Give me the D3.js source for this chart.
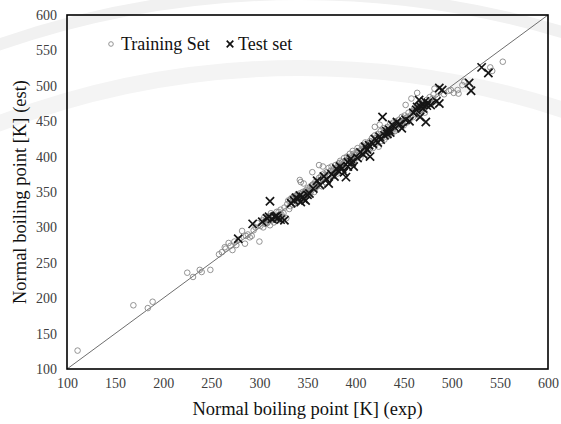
<!DOCTYPE html>
<html>

<head>
    <meta charset="UTF-8">
    <style>
        body {
            margin: 0;
            background-color: #fff;
        }

        .tick text {
            font-size: 14px;
            fill: #404040;
        }

        .axis-title {
            font-size: 18.5px;
            fill: #111;
        }

        .legend text {
            font-size: 18px;
            fill: #111;
        }
    </style>
    <title>Normal boiling point</title>
</head>

<body>
    <svg id="d3chart" width="561" height="424"></svg>

    <script src="https://d3js.org/d3.v7.min.js"></script>
    <script>
        // data: [exp, est]
        const trainingSet = [
            [111, 126], [169, 190], [184, 186], [189, 195], [225, 236], [231, 230], [238, 240], [240, 237], [249, 240],
            [258, 262], [261, 265], [264, 272], [265, 270], [268, 278], [270, 274], [272, 268], [274, 280], [276, 275],
            [279, 283], [282, 295], [285, 277], [286, 288], [288, 290], [290, 286], [292, 288], [294, 296], [296, 300],
            [298, 306], [300, 280],
            [301, 302], [303, 310], [304, 300], [306, 305], [307, 312], [309, 308], [310, 316], [311, 303], [313, 310],
            [314, 318], [315, 307], [317, 314], [318, 322], [319, 310], [321, 318], [322, 325], [324, 315], [325, 320],
            [326, 328], [328, 313], [329, 333], [305, 314], [308, 306], [312, 320], [316, 311], [320, 322], [323, 318],
            [330, 338], [331, 326], [332, 330], [333, 341], [334, 336], [335, 332], [336, 344], [337, 339], [338, 334],
            [339, 342], [340, 346], [341, 338], [342, 348], [343, 344], [344, 340], [345, 350], [346, 346], [347, 342],
            [348, 352], [349, 348], [350, 355], [351, 345], [352, 351], [353, 358], [354, 352], [355, 360], [356, 356],
            [357, 350], [358, 364], [359, 362], [360, 358], [343, 364], [346, 362], [342, 367], [362, 388], [366, 386],
            [355, 378], [332, 337], [335, 340], [338, 345], [340, 336], [342, 341], [344, 347], [347, 350], [349, 344],
            [351, 353], [353, 349], [356, 361], [358, 355],
            [361, 366], [362, 370], [363, 364], [364, 372], [365, 358], [366, 368], [367, 376], [368, 370], [369, 364],
            [370, 378], [371, 374], [372, 384], [373, 368], [374, 380], [375, 386], [376, 372], [377, 382], [378, 378],
            [379, 388], [380, 384], [381, 376], [382, 390], [383, 386], [384, 394], [385, 380], [386, 392], [387, 388],
            [388, 398], [389, 384], [390, 394], [391, 400], [392, 388], [393, 396], [394, 404], [395, 392], [396, 398],
            [397, 408], [398, 394], [399, 402], [400, 398], [364, 366], [368, 374], [372, 372], [376, 380], [380, 378],
            [383, 391], [386, 386], [389, 393], [392, 396], [395, 400], [398, 404],
            [401, 406], [402, 412], [403, 402], [404, 408], [405, 398], [406, 410], [407, 416], [408, 406], [409, 412],
            [410, 420], [411, 404], [412, 414], [413, 418], [414, 410], [415, 422], [416, 416], [417, 426], [418, 412],
            [419, 420], [420, 430], [421, 418], [422, 424], [423, 432], [424, 414], [425, 426], [426, 436], [427, 422],
            [428, 430], [429, 440], [430, 424], [431, 434], [432, 428], [433, 442], [434, 436], [435, 430], [436, 446],
            [437, 438], [438, 434], [439, 448], [440, 442], [420, 442], [425, 445], [404, 403], [408, 414], [413, 409],
            [417, 420], [421, 426], [426, 428], [430, 436], [434, 432], [438, 440],
            [441, 436], [442, 450], [443, 444], [444, 438], [445, 452], [446, 448], [447, 442], [448, 456], [449, 450],
            [450, 444], [451, 458], [452, 454], [453, 448], [455, 462], [456, 452], [457, 458], [459, 464], [460, 456],
            [461, 468], [462, 460], [464, 470], [465, 462], [466, 458], [467, 474], [468, 466], [470, 476], [471, 468],
            [472, 462], [474, 480], [475, 472], [477, 484], [478, 476], [480, 482], [481, 488], [482, 478], [452, 473],
            [464, 490], [458, 482], [444, 446], [448, 448], [454, 456], [462, 466], [466, 470], [470, 466],
            [485, 484], [482, 496], [492, 488], [497, 493], [499, 494], [502, 490], [506, 494], [507, 489], [511, 501],
            [513, 506], [540, 526], [542, 521], [553, 534]
        ];

        const testSet = [
            [278, 284], [293, 305], [303, 308], [308, 313], [311, 337], [313, 312], [316, 315], [319, 313], [322, 311],
            [326, 310], [333, 334], [336, 338], [340, 340], [343, 336], [345, 343], [348, 338], [352, 348], [356, 355],
            [360, 366], [363, 360], [367, 372], [370, 368], [372, 362], [375, 375], [378, 372], [382, 380], [386, 383],
            [388, 378], [390, 371], [392, 392], [395, 397], [398, 386], [402, 398], [405, 406], [408, 403], [412, 410],
            [415, 400], [418, 418], [420, 425], [423, 420], [425, 428], [428, 456], [430, 430], [433, 432], [435, 438],
            [438, 445], [440, 442], [443, 449], [446, 446], [448, 440], [452, 452], [456, 450], [460, 462], [463, 466],
            [466, 480], [467, 456], [468, 470], [470, 473], [472, 478], [473, 449], [475, 476], [478, 473], [484, 478],
            [487, 475], [487, 497], [490, 494], [518, 504], [520, 493], [531, 526], [538, 518],
            [310, 315], [318, 316], [338, 342], [342, 345], [346, 340], [350, 346], [380, 383], [384, 386], [392, 386],
            [396, 392], [410, 414], [414, 416], [426, 424], [432, 436], [436, 434], [464, 470], [470, 468], [474, 472]
        ];

        const axisTicks = [100, 150, 200, 250, 300, 350, 400, 450, 500, 550, 600];
        const seriesNames = ["Training Set", "Test set"];

        const serif = '"Liberation Serif", Tinos, "Times New Roman", "DejaVu Serif", serif';

        const svg = d3.select("#d3chart");
        const plotLeft = 67, plotTop = 15, plotRight = 548, plotBottom = 369;

        const x = d3.scaleLinear().domain([100, 600]).range([plotLeft, plotRight]);
        const y = d3.scaleLinear().domain([100, 600]).range([plotBottom, plotTop]);

        // faint watermark rings behind the chart
        const wm = svg.append("g").attr("fill", "none");
        wm.append("circle")
            .attr("cx", 300).attr("cy", 914).attr("r", 920)
            .attr("stroke", "#f1f1f1").attr("stroke-width", 12);
        wm.append("circle")
            .attr("cx", 300).attr("cy", 914).attr("r", 846)
            .attr("stroke", "#f4f4f4").attr("stroke-width", 16);

        // axes, no tick marks
        svg.append("g")
            .attr("transform", `translate(0, ${plotBottom})`)
            .call(d3.axisBottom(x).tickValues(axisTicks).tickSize(0).tickPadding(9))
            .call(g => g.select(".domain").remove())
            .attr("font-family", serif);

        svg.append("g")
            .attr("transform", `translate(${plotLeft}, 0)`)
            .call(d3.axisLeft(y).tickValues(axisTicks).tickSize(0).tickPadding(10))
            .call(g => g.select(".domain").remove())
            .attr("font-family", serif);

        // y = x line
        svg.append("line")
            .attr("x1", x(100)).attr("y1", y(100))
            .attr("x2", x(600)).attr("y2", y(600))
            .attr("stroke", "#6e6e6e")
            .attr("stroke-width", 1);

        // training set, open circles
        svg.append("g")
            .selectAll("circle")
            .data(trainingSet)
            .join("circle")
            .attr("cx", d => x(d[0]))
            .attr("cy", d => y(d[1]))
            .attr("r", 2.8)
            .attr("fill", "none")
            .attr("stroke", "#888")
            .attr("stroke-width", 0.9);

        // test set, crosses
        const cross = d3.symbol().type(d3.symbolX).size(46);
        svg.append("g")
            .selectAll("path")
            .data(testSet)
            .join("path")
            .attr("transform", d => `translate(${x(d[0])}, ${y(d[1])})`)
            .attr("d", cross)
            .attr("fill", "none")
            .attr("stroke", "#151515")
            .attr("stroke-width", 1.7);

        // frame
        svg.append("rect")
            .attr("x", plotLeft).attr("y", plotTop)
            .attr("width", plotRight - plotLeft).attr("height", plotBottom - plotTop)
            .attr("fill", "none")
            .attr("stroke", "#000")
            .attr("stroke-width", 1.6);

        // legend
        const legend = svg.append("g").attr("class", "legend").attr("font-family", serif);
        legend.append("circle")
            .attr("cx", 111).attr("cy", 44).attr("r", 2.3)
            .attr("fill", "none").attr("stroke", "#888").attr("stroke-width", 0.9);
        legend.append("text").attr("x", 121).attr("y", 50).text(seriesNames[0]);
        legend.append("path")
            .attr("transform", "translate(230, 44)")
            .attr("d", d3.symbol().type(d3.symbolX).size(30))
            .attr("fill", "none").attr("stroke", "#111").attr("stroke-width", 1.7);
        legend.append("text").attr("x", 238).attr("y", 50).text(seriesNames[1]);

        // axis titles
        svg.append("text")
            .attr("class", "axis-title")
            .attr("font-family", serif)
            .attr("x", (plotLeft + plotRight) / 2)
            .attr("y", 415)
            .attr("text-anchor", "middle")
            .text("Normal boiling point [K] (exp)");

        svg.append("text")
            .attr("class", "axis-title")
            .attr("font-family", serif)
            .attr("transform", `translate(26, ${(plotTop + plotBottom) / 2}) rotate(-90)`)
            .attr("text-anchor", "middle")
            .text("Normal boiling point [K] (est)");
    </script>
</body>

</html>
